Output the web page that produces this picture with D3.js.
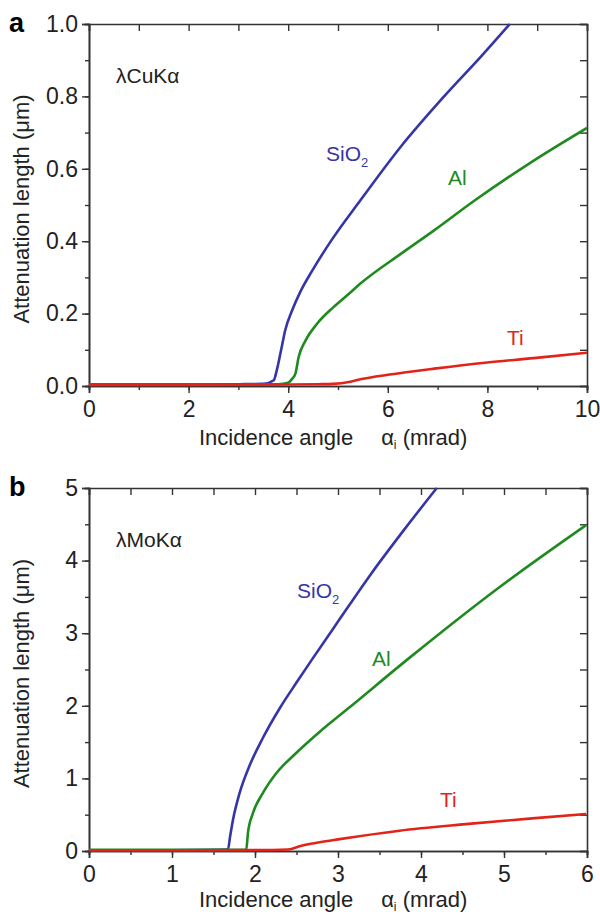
<!DOCTYPE html>
<html>
<head>
<meta charset="utf-8">
<script src="https://cdn.jsdelivr.net/npm/d3@7"></script>
<style>
  body { margin: 0; background: #fff; }
  text { font-family: "Liberation Sans", Arial, sans-serif; }
</style>
</head>
<body>
<div id="chart"></div>
<script>
// panel a : CuKa, angle in mrad, attenuation length in um
var aAngleSiO2 = [0, 1, 2, 3, 3.5, 3.71, 3.77, 3.87, 3.94, 4.08, 4.25, 4.48, 4.88, 5.45, 6.26, 7.13, 7.87, 8.45];
var aLenSiO2   = [0.004, 0.004, 0.004, 0.005, 0.006, 0.016, 0.043, 0.108, 0.154, 0.209, 0.262, 0.318, 0.405, 0.513, 0.661, 0.80, 0.91, 1.0];
var aAngleAl = [0, 1, 2, 3, 3.8, 4.0, 4.08, 4.145, 4.21, 4.35, 4.58, 4.91, 5.22, 5.45, 6.26, 6.93, 7.75, 8.9, 10];
var aLenAl   = [0.005, 0.005, 0.004, 0.004, 0.005, 0.009, 0.02, 0.034, 0.08, 0.126, 0.172, 0.218, 0.255, 0.283, 0.365, 0.43, 0.513, 0.62, 0.713];
var aAngleTi = [0, 2, 4, 4.6, 4.9, 5.25, 5.5, 6.0, 6.93, 8.0, 8.93, 10];
var aLenTi   = [0.003, 0.003, 0.004, 0.005, 0.006, 0.012, 0.02, 0.031, 0.048, 0.065, 0.077, 0.092];

// panel b : MoKa
var bAngleSiO2 = [0, 1, 1.5, 1.65, 1.674, 1.70, 1.735, 1.815, 1.936, 2.096, 2.3, 2.5, 2.7, 3.0, 3.4, 3.8, 4.19];
var bLenSiO2   = [0.01, 0.01, 0.015, 0.02, 0.02, 0.2, 0.43, 0.80, 1.18, 1.56, 1.97, 2.32, 2.66, 3.16, 3.82, 4.43, 5.0];
var bAngleAl = [0, 1, 1.5, 1.85, 1.895, 1.915, 1.975, 2.096, 2.256, 2.496, 2.777, 3.14, 3.86, 4.94, 5.99];
var bLenAl   = [0.015, 0.015, 0.015, 0.015, 0.02, 0.25, 0.52, 0.80, 1.07, 1.35, 1.64, 1.98, 2.66, 3.63, 4.49];
var bAngleTi = [0, 1, 2, 2.4, 2.55, 2.78, 3.0, 3.74, 4.54, 5.34, 5.99];
var bLenTi   = [0.01, 0.01, 0.012, 0.02, 0.07, 0.12, 0.16, 0.28, 0.37, 0.45, 0.51];

var aXTicks = [0, 2, 4, 6, 8, 10];
var aYTicks = [0.0, 0.2, 0.4, 0.6, 0.8, 1.0];
var bXTicks = [0, 1, 2, 3, 4, 5, 6];
var bYTicks = [0, 1, 2, 3, 4, 5];

var blue = "#3535a8", green = "#1f8a1f", red = "#e2231a", axisColor = "#333";

function zip(xs, ys) {
  return xs.map(function(x, i) { return {x: x, y: ys[i]}; });
}

var svg = d3.select("#chart").append("svg")
  .attr("width", 600)
  .attr("height", 916);

function drawPanel(p) {
  var x = d3.scaleLinear().domain(p.xDomain).range([89, 587]);
  var y = d3.scaleLinear().domain(p.yDomain).range([p.bottom, p.top]);

  var g = svg.append("g");

  // minor tick positions = halfway between majors
  var xStep = p.xTicks[1] - p.xTicks[0], yStep = p.yTicks[1] - p.yTicks[0];
  var xMinor = d3.range(p.xDomain[0], p.xDomain[1] + 1e-9, xStep / 2);
  var yMinor = d3.range(p.yDomain[0], p.yDomain[1] + 1e-9, yStep / 2);

  // bottom + left (outward, labelled)
  g.append("g").attr("transform", "translate(0," + p.bottom + ")")
    .call(d3.axisBottom(x).tickValues(xMinor).tickSize(4).tickFormat(""));
  g.append("g").attr("transform", "translate(0," + p.bottom + ")")
    .call(d3.axisBottom(x).tickValues(p.xTicks).tickSize(7).tickPadding(8).tickFormat(p.xFormat))
    .attr("class", "lab");
  g.append("g").attr("transform", "translate(89,0)")
    .call(d3.axisLeft(y).tickValues(yMinor).tickSize(4).tickFormat(""));
  g.append("g").attr("transform", "translate(89,0)")
    .call(d3.axisLeft(y).tickValues(p.yTicks).tickSize(7).tickPadding(4).tickFormat(p.yFormat))
    .attr("class", "lab");

  // top + right (inward, no labels)
  g.append("g").attr("transform", "translate(0," + p.top + ")")
    .call(d3.axisTop(x).tickValues(xMinor).tickSize(-7).tickFormat(""));
  g.append("g").attr("transform", "translate(587,0)")
    .call(d3.axisRight(y).tickValues(yMinor).tickSize(-7).tickFormat(""));

  g.selectAll(".domain").attr("stroke", axisColor).attr("stroke-width", 1.6);
  g.selectAll(".tick line").attr("stroke", axisColor).attr("stroke-width", 1.4);
  g.selectAll(".lab .tick text")
    .attr("font-size", 23)
    .attr("fill", "#222")
    .style("font-family", "'Liberation Sans', Arial, sans-serif");

  var line = d3.line()
    .x(function(d) { return x(d.x); })
    .y(function(d) { return y(d.y); })
    .curve(d3.curveMonotoneX);

  var clip = "clip" + p.name;
  svg.append("clipPath").attr("id", clip)
    .append("rect").attr("x", 89).attr("y", p.top - 2)
    .attr("width", 498).attr("height", p.bottom - p.top + 4);

  p.series.forEach(function(s) {
    g.append("path")
      .datum(zip(s.xs, s.ys))
      .attr("clip-path", "url(#" + clip + ")")
      .attr("fill", "none")
      .attr("stroke", s.color)
      .attr("stroke-width", 2.6)
      .attr("d", line);

    var t = g.append("text")
      .attr("x", s.lx).attr("y", s.ly)
      .attr("font-size", 21)
      .attr("fill", s.color)
      .text(s.label);
    if (s.sub) {
      t.append("tspan").attr("font-size", 13).attr("dy", 6).text(s.sub);
    }
  });

  // panel letter
  svg.append("text")
    .attr("x", 9).attr("y", p.top + 8)
    .attr("font-size", 27).attr("font-weight", "bold")
    .text(p.name);

  // wavelength label
  svg.append("text")
    .attr("x", 116).attr("y", p.top + 59)
    .attr("font-size", 21).attr("fill", "#222")
    .text(p.lambda);

  // y title
  svg.append("text")
    .attr("transform", "translate(29," + ((p.top + p.bottom) / 2 + 4) + ") rotate(-90)")
    .attr("text-anchor", "middle")
    .attr("font-size", 22).attr("fill", "#222")
    .text("Attenuation length (\u03bcm)");

  // x title
  var xt = svg.append("text")
    .attr("x", 199).attr("y", p.bottom + p.titleGap)
    .attr("font-size", 22).attr("fill", "#222");
  xt.append("tspan").text("Incidence angle");
  xt.append("tspan").attr("dx", 28).text("\u03b1");
  xt.append("tspan").attr("font-size", 12).attr("dy", 4).text("i");
  xt.append("tspan").attr("dy", -4).text(" (mrad)");
}

drawPanel({
  name: "a",
  lambda: "\u03bbCuK\u03b1",
  top: 24, bottom: 386, titleGap: 59,
  xDomain: [0, 10], yDomain: [0, 1],
  xTicks: aXTicks, yTicks: aYTicks,
  xFormat: d3.format("d"), yFormat: d3.format(".1f"),
  series: [
    {xs: aAngleSiO2, ys: aLenSiO2, color: blue, label: "SiO", sub: "2", lx: 326, ly: 161},
    {xs: aAngleAl, ys: aLenAl, color: green, label: "Al", lx: 448, ly: 185},
    {xs: aAngleTi, ys: aLenTi, color: red, label: "Ti", lx: 507, ly: 345}
  ]
});

drawPanel({
  name: "b",
  lambda: "\u03bbMoK\u03b1",
  top: 488, bottom: 851, titleGap: 56,
  xDomain: [0, 6], yDomain: [0, 5],
  xTicks: bXTicks, yTicks: bYTicks,
  xFormat: d3.format("d"), yFormat: d3.format("d"),
  series: [
    {xs: bAngleSiO2, ys: bLenSiO2, color: blue, label: "SiO", sub: "2", lx: 297, ly: 598},
    {xs: bAngleAl, ys: bLenAl, color: green, label: "Al", lx: 372, ly: 666},
    {xs: bAngleTi, ys: bLenTi, color: red, label: "Ti", lx: 440, ly: 807}
  ]
});
</script>
</body>
</html>
